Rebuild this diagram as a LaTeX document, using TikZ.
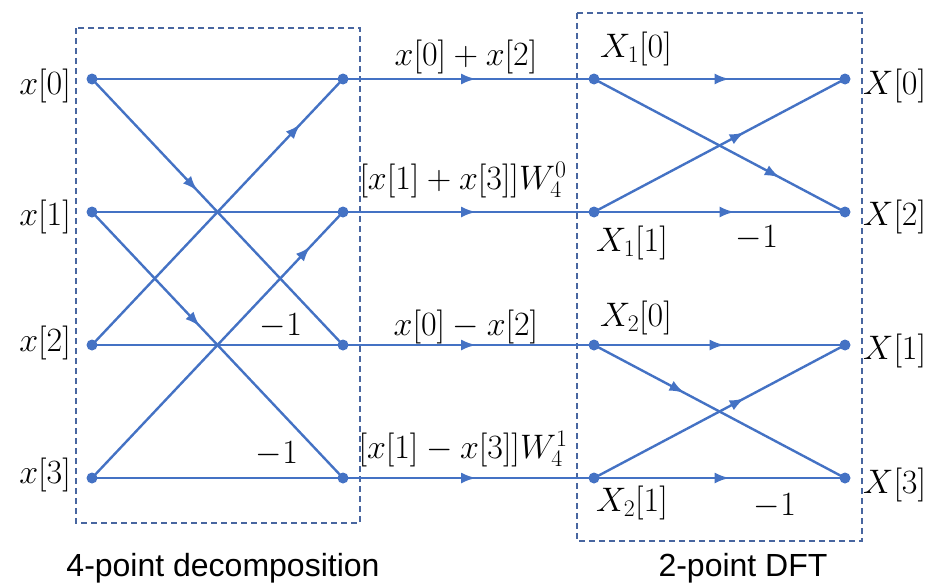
\RequirePackage{fix-cm}
\documentclass[tikz,border=0pt]{standalone}
\usepackage{fontspec}
\newfontfamily\capfont{Liberation Sans}
\usetikzlibrary{arrows.meta,decorations.markings}
\definecolor{flow}{RGB}{68,114,196}
\definecolor{frame}{RGB}{72,102,160}
\begin{document}
\begin{tikzpicture}[x=1pt,y=-1pt,
  dot/.style={circle,fill=flow,inner sep=0pt,minimum size=11pt},
  wire/.style={draw=flow,line width=2.4pt},
  arr/.style={postaction={decorate,decoration={markings,mark=at position #1 with {\arrow{Latex[length=15pt,width=11pt]}}}}},
  frm/.style={draw=frame,line width=1.5pt,dash pattern=on 6pt off 4pt},
  lbl/.style={inner sep=0pt,font=\fontsize{34}{40}\selectfont,anchor=base},
  captxt/.style={inner sep=0pt,font=\capfont\fontsize{32}{38}\selectfont,anchor=base}]
\useasboundingbox (0,0) rectangle (928,586);
% frames
\draw[frm] (76,28) rectangle (360,523);
\draw[frm] (577,13) rectangle (862,541);
% nodes
\foreach \i/\y in {0/79,1/212,2/345,3/478}{
  \node[dot] (a\i) at (92,\y) {};
  \node[dot] (b\i) at (343,\y) {};
  \node[dot] (c\i) at (594,\y) {};
  \node[dot] (d\i) at (845,\y) {};
}
% left butterfly
\foreach \i in {0,1,2,3}{\draw[wire] (a\i.center) -- (b\i.center);}
\draw[wire,arr=0.42] (a0.center) -- (b2.center);
\draw[wire,arr=0.83] (a2.center) -- (b0.center);
\draw[wire,arr=0.43] (a1.center) -- (b3.center);
\draw[wire,arr=0.87] (a3.center) -- (b1.center);
% middle
\foreach \i in {0,1,2,3}{\draw[wire,arr=0.53] (b\i.center) -- (c\i.center);}
% right butterflies
\draw[wire,arr=0.54] (c0.center) -- (d0.center);
\draw[wire,arr=0.56] (c1.center) -- (d1.center);
\draw[wire,arr=0.74] (c0.center) -- (d1.center);
\draw[wire,arr=0.60] (c1.center) -- (d0.center);
\draw[wire,arr=0.52] (c2.center) -- (d2.center);
\draw[wire,arr=0.54] (c3.center) -- (d3.center);
\draw[wire,arr=0.36] (c2.center) -- (d3.center);
\draw[wire,arr=0.60] (c3.center) -- (d2.center);
% input labels
\node[lbl,anchor=base east] (lx0) at (71,94.5) {$x[0]$};
\node[lbl,anchor=base east] (lx1) at (71,225.5) {$x[1]$};
\node[lbl,anchor=base east] (lx2) at (71,351) {$x[2]$};
\node[lbl,anchor=base east] (lx3) at (71,483.5) {$x[3]$};
% output labels
\node[lbl,anchor=base west] (lX0) at (863,94.5) {$X[0]$};
\node[lbl,anchor=base west] (lX2) at (863,225.5) {$X[2]$};
\node[lbl,anchor=base west] (lX1) at (863,359.5) {$X[1]$};
\node[lbl,anchor=base west] (lX3) at (863,493.5) {$X[3]$};
% middle labels
\node[lbl] (m0) at (466,66) {$x[0]+x[2]$};
\node[lbl] (m1) at (463,189.5) {$[x[1]+x[3]]W_4^0$};
\node[lbl] (m2) at (466,335) {$x[0]-x[2]$};
\node[lbl] (m3) at (463,458.5) {$[x[1]-x[3]]W_4^1$};
% 2-point labels
\node[lbl] (k10) at (636,57.5) {$X_1[0]$};
\node[lbl] (k11) at (632,251) {$X_1[1]$};
\node[lbl] (k20) at (636,326.5) {$X_2[0]$};
\node[lbl] (k21) at (632,511.5) {$X_2[1]$};
% minus ones
\node[lbl] (n1) at (281,335) {$-1$};
\node[lbl] (n2) at (277,463) {$-1$};
\node[lbl] (n3) at (757,247) {$-1$};
\node[lbl] (n4) at (775,515) {$-1$};
% captions
\node[captxt] (t1) at (223,576) {4-point decomposition};
\node[captxt] (t2) at (743,576) {2-point DFT};
\end{tikzpicture}
\end{document}
